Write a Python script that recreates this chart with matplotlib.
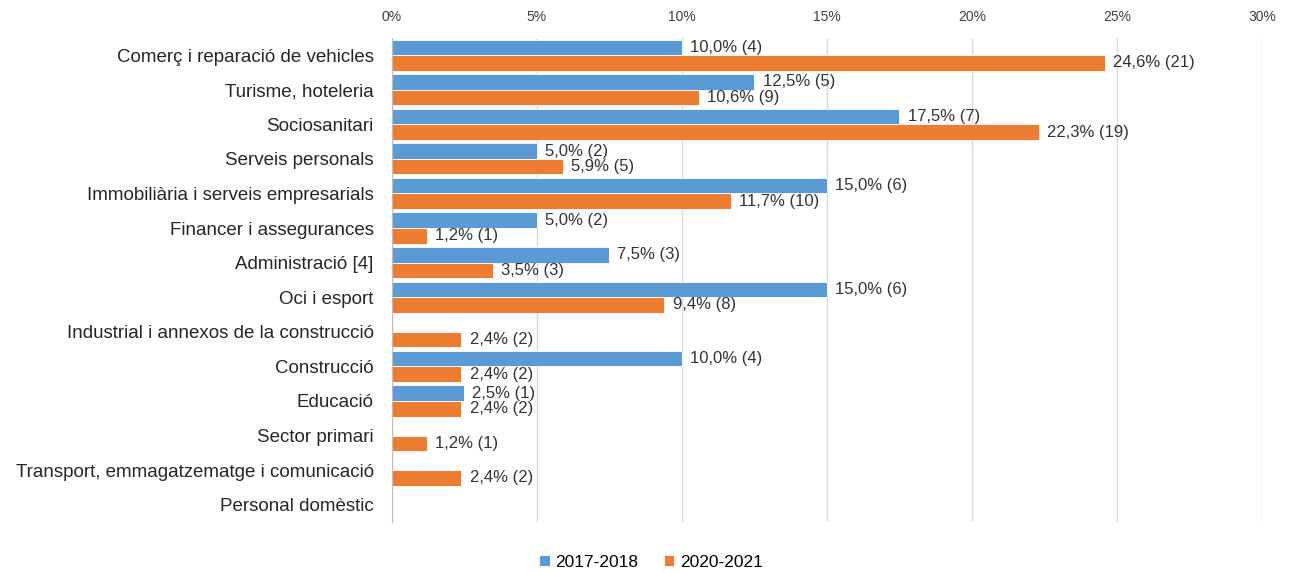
import matplotlib.pyplot as plt
import numpy as np
from matplotlib import rcParams

rcParams["font.family"] = ["Liberation Sans", "DejaVu Sans"]

# === Data ===
categories = [
    "Comerç i reparació de vehicles",
    "Turisme, hoteleria",
    "Sociosanitari",
    "Serveis personals",
    "Immobiliària i serveis empresarials",
    "Financer i assegurances",
    "Administració [4]",
    "Oci i esport",
    "Industrial i annexos de la construcció",
    "Construcció",
    "Educació",
    "Sector primari",
    "Transport, emmagatzematge i comunicació",
    "Personal domèstic",
]
pct_1718 = [10.0, 12.5, 17.5, 5.0, 15.0, 5.0, 7.5, 15.0, 0, 10.0, 2.5, 0, 0, 0]
n_1718 = [4, 5, 7, 2, 6, 2, 3, 6, 0, 4, 1, 0, 0, 0]
pct_2021 = [24.6, 10.6, 22.3, 5.9, 11.7, 1.2, 3.5, 9.4, 2.4, 2.4, 2.4, 1.2, 2.4, 0]
n_2021 = [21, 9, 19, 5, 10, 1, 3, 8, 2, 2, 2, 1, 2, 0]
series_names = ["2017-2018", "2020-2021"]
xticks = [0, 5, 10, 15, 20, 25, 30]

BLUE = "#5B9BD5"
ORANGE = "#ED7D31"

fig = plt.figure(figsize=(12.89, 5.73), dpi=100)
ax = fig.add_axes([0.304, 0.089, 0.675, 0.845])

y = np.arange(len(categories))
h = 0.45

b1 = ax.barh(y - h / 2, pct_1718, height=h, color=BLUE, edgecolor="white",
             linewidth=0.6, label=series_names[0], zorder=3)
b2 = ax.barh(y + h / 2, pct_2021, height=h, color=ORANGE, edgecolor="white",
             linewidth=0.6, label=series_names[1], zorder=3)

for yy, v, n in zip(y - h / 2, pct_1718, n_1718):
    if v > 0:
        ax.text(v + 0.28, yy, f"{v:.1f}% ({n})".replace(".", ","),
                va="center", ha="left", fontsize=12, color="#333333")
for yy, v, n in zip(y + h / 2, pct_2021, n_2021):
    if v > 0:
        ax.text(v + 0.28, yy, f"{v:.1f}% ({n})".replace(".", ","),
                va="center", ha="left", fontsize=12, color="#333333")

ax.set_xlim(0, 30)
ax.set_ylim(len(categories) - 0.5, -0.5)
ax.set_xticks(xticks)
ax.set_xticklabels([f"{t}%" for t in xticks], fontsize=10, color="#404040")
ax.xaxis.tick_top()
ax.tick_params(axis="x", length=0, pad=10)
ax.set_yticks(y)
ax.set_yticklabels(categories, fontsize=13.5, color="#262626")
ax.tick_params(axis="y", length=0, pad=13)
ax.grid(axis="x", color="#D9D9D9", linewidth=1, zorder=0)
for s in ["top", "right", "bottom"]:
    ax.spines[s].set_visible(False)
ax.spines["left"].set_color("#BFBFBF")
ax.spines["left"].set_zorder(4)

fig.legend(handles=[b1, b2], labels=series_names, loc="lower center",
           bbox_to_anchor=(0.505, -0.022), ncol=2, frameon=False, fontsize=12.5,
           handlelength=0.6, handleheight=0.6, columnspacing=1.5,
           handletextpad=0.3)

fig.savefig("out.png", dpi=100)
